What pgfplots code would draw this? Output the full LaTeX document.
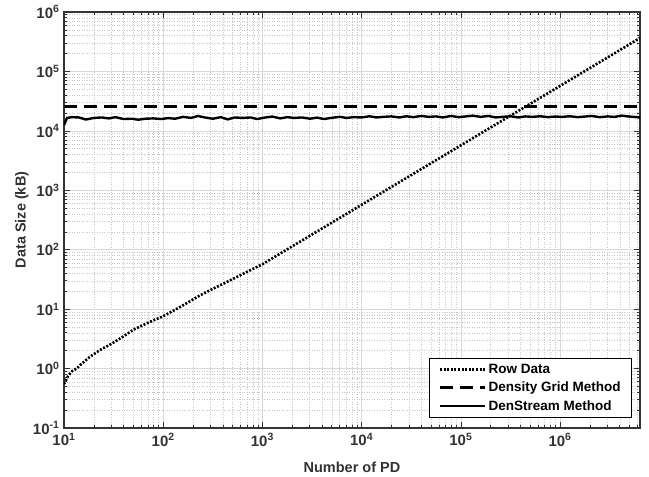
\documentclass[border=0pt]{standalone}
\usepackage{pgfplots}
\pgfplotsset{compat=1.18}
\usepackage{fontspec}
\setmainfont{Liberation Sans}

% data (x = number of PD, y = size in kB)
\pgfplotstableread{
x y
10 0.55
11 0.75
12 0.9
13.4 1.0
15 1.2
18 1.55
23 2.05
30 2.6
40 3.5
50 4.5
70 5.9
100 7.6
150 11
234 17
300 21
500 32
1000 57
2000 114
5000 285
10000 570
100000 5700
1000000 57000
6400000 365000
}\rowdata

\pgfplotstableread{
x y
10 12500
10.72 16500
12.02 17000
14.13 16800
16.60 15500
19.95 16500
23.99 16800
28.18 16200
33.11 17000
39.81 15800
47.86 16000
56.23 15400
66.07 16000
79.43 16200
95.50 15800
112.2 16400
131.8 16000
158.5 17200
190.5 16500
223.9 17800
263.0 16800
316.2 16000
380.2 17000
446.7 15600
524.8 16800
631.0 16500
758.6 16800
891.3 15800
1047 16700
1259 17400
1514 16200
1778 17000
2089 16500
2512 16800
3020 16000
3548 16700
4169 15800
5012 16600
6026 17200
7079 16500
8318 17000
10000 16800
12023 17600
14125 16800
16596 17200
19953 17500
23988 16800
28184 17600
33113 17000
39811 17800
47863 17200
56234 17500
66069 16800
79433 17800
95499 17000
112202 17500
131826 18000
158489 17200
190546 17800
223872 16800
263027 17200
316228 17600
380189 16800
446684 17500
524807 17200
630957 17600
758578 17000
891251 17400
1047129 17200
1258925 17600
1513561 17000
1778279 17400
2089296 17800
2511886 17000
3019952 17500
3548134 17200
4168694 18000
5011872 17400
6400000 16800
}\denstream

\begin{document}
\begin{tikzpicture}
\begin{axis}[
  name=ax,
  scale only axis,
  width=576pt, height=416pt,
  xmode=log, ymode=log,
  log basis x=10, log basis y=10,
  xmin=10, xmax=6.4e6,
  ymin=0.1, ymax=1e6,
  xtick={1e1,1e2,1e3,1e4,1e5,1e6},
  ytick={1e-1,1e0,1e1,1e2,1e3,1e4,1e5,1e6},
  minor xtick={20,30,40,50,60,70,80,90,200,300,400,500,600,700,800,900,
    2000,3000,4000,5000,6000,7000,8000,9000,
    20000,30000,40000,50000,60000,70000,80000,90000,
    200000,300000,400000,500000,600000,700000,800000,900000,
    2000000,3000000,4000000,5000000,6000000},
  minor ytick={0.2,0.3,0.4,0.5,0.6,0.7,0.8,0.9,2,3,4,5,6,7,8,9,
    20,30,40,50,60,70,80,90,200,300,400,500,600,700,800,900,
    2000,3000,4000,5000,6000,7000,8000,9000,
    20000,30000,40000,50000,60000,70000,80000,90000,
    200000,300000,400000,500000,600000,700000,800000,900000},
  xticklabel={\pgfmathtruncatemacro\e{round(\tick)}10\textsuperscript{\e}},
  yticklabel={\pgfmathtruncatemacro\e{round(\tick)}10\textsuperscript{\e}},
  ticklabel style={font=\fontsize{15}{17}\selectfont\bfseries, text=black!80},
  xticklabel style={yshift=-2pt},
  yticklabel style={xshift=-1pt},
  xlabel={Number of PD},
  ylabel={Data Size (kB)},
  label style={font=\fontsize{14.5}{16}\selectfont\bfseries, text=black!80},
  xlabel style={at={(axis description cs:0.5,-0.094)}, anchor=center},
  ylabel style={at={(axis description cs:-0.073,0.5)}, anchor=center},
  grid=both,
  major grid style={black!15, line width=0.6pt},
  minor grid style={black!22, line width=0.5pt, dash pattern=on 1pt off 1.5pt},
  tick align=inside,
  major tick length=6pt,
  minor tick length=3pt,
  tick style={black!80, line width=0.6pt},
  axis line style={black!80, line width=1.1pt},
  legend style={
    at={(0.986,0.024)}, anchor=south east,
    draw=black, line width=0.8pt, fill=white,
    font=\fontsize{13.5}{15}\selectfont\bfseries,
    row sep=3pt, inner xsep=9pt, inner ysep=4pt,
    cells={anchor=west},
  },
  legend image code/.code={\draw[#1] (0pt,0pt) -- (45pt,0pt);},
]
\addplot[black, line width=2.6pt, dash pattern=on 2pt off 1.6pt] table[x=x,y=y] {\rowdata};
\addplot[black, line width=3pt, dash pattern=on 13pt off 7pt] coordinates {(10,26000) (6.4e6,26000)};
\addplot[black, line width=2.4pt, line join=round] table[x=x,y=y] {\denstream};
\legend{Row Data, Density Grid Method, DenStream Method}
\end{axis}
\pgfresetboundingbox
\path ([xshift=-64pt,yshift=-49pt]ax.south west) rectangle ([xshift=9pt,yshift=12pt]ax.north east);
\end{tikzpicture}
\end{document}
